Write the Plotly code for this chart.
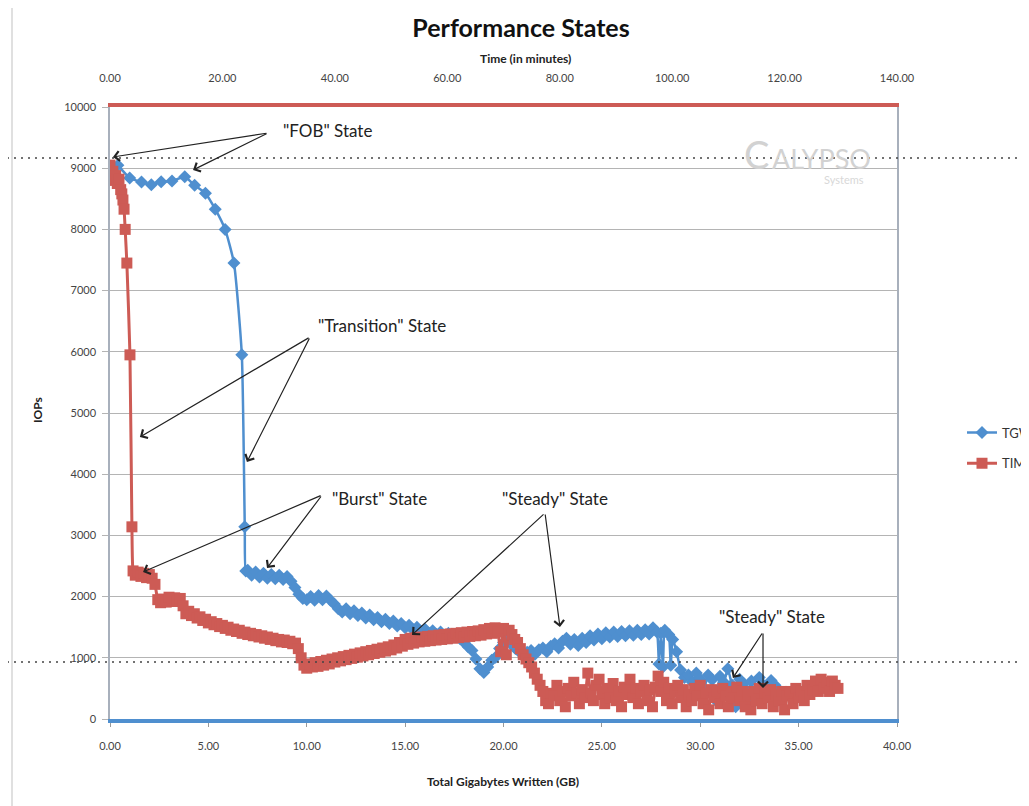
import plotly.graph_objects as go

# ---------------- data ----------------
# TGW series: IOPs vs total gigabytes written (bottom axis, GB)
tgw_gb = [0.4, 1.0, 1.6, 2.1, 2.6, 3.15, 3.8, 4.3, 4.85, 5.35, 5.85, 6.3, 6.7, 6.85, 6.9,
          7.0, 7.2, 7.4, 7.6, 7.8, 8.0, 8.2, 8.4, 8.6, 8.8, 9.0, 9.2,
          9.4, 9.6, 9.8, 10.0, 10.2, 10.4, 10.6, 10.8, 11.0, 11.2, 11.4, 11.6, 11.8, 12.0,
          12.2, 12.4, 12.6, 12.8, 13.0, 13.2, 13.4, 13.6, 13.8, 14.0, 14.2, 14.4, 14.6, 14.8,
          15.0, 15.2, 15.4, 15.6, 15.8, 16.0, 16.2, 16.4, 16.6, 16.8, 17.0, 17.2, 17.4, 17.6,
          17.8, 18.0, 18.2, 18.4, 18.6, 18.8, 19.0, 19.2, 19.4, 19.6, 19.8, 20.0, 20.2, 20.4,
          20.6, 20.8, 21.0, 21.2, 21.4, 21.6, 21.8, 22.0, 22.2, 22.4, 22.6, 22.8, 23.0, 23.2,
          23.4, 23.6, 23.8, 24.0, 24.2, 24.4, 24.6, 24.8, 25.0, 25.2, 25.4, 25.6, 25.8, 26.0,
          26.2, 26.4, 26.6, 26.8, 27.0, 27.2, 27.4, 27.6, 27.8, 27.9, 28.0, 28.1, 28.2, 28.4,
          28.5, 28.6, 28.8, 29.0, 29.2, 29.4, 29.6, 29.8, 30.0, 30.2, 30.4, 30.6, 30.8, 31.0,
          31.2, 31.4, 31.6, 31.8, 32.0, 32.2, 32.4, 32.6, 32.8, 33.0, 33.2, 33.4, 33.6, 33.8, 34.0]
tgw_iops = [9050, 8840, 8775, 8730, 8780, 8790, 8860, 8720, 8590, 8330, 8000, 7450, 5950, 3140, 2420,
            2430, 2350, 2400, 2320, 2380, 2300, 2360, 2290, 2350, 2280, 2330, 2250,
            2150, 2040, 1970, 1950, 2000, 1940, 2020, 1950, 2010, 1940, 1880, 1800, 1750, 1800,
            1720, 1770, 1690, 1730, 1650, 1700, 1620, 1660, 1590, 1630, 1560, 1600, 1520, 1560,
            1490, 1530, 1460, 1500, 1430, 1470, 1400, 1440, 1380, 1420, 1360, 1400, 1330, 1370,
            1310, 1250, 1180, 1120, 980, 820, 760, 850, 960, 1010, 1150, 1250, 1300, 1220,
            1150, 1100, 1060, 1090, 1120, 1060, 1130, 1160, 1100, 1190, 1230, 1160, 1270, 1320,
            1220, 1300, 1200, 1320, 1250, 1360, 1290, 1390, 1310, 1410, 1340, 1420, 1350, 1430,
            1360, 1440, 1370, 1450, 1380, 1460, 1390, 1490, 1420, 900, 1400, 850, 1450, 1380,
            880, 1300, 1100, 800, 680, 720, 600, 750, 650, 500, 720, 640, 300, 700,
            600, 820, 560, 200, 650, 580, 450, 620, 300, 680, 560, 400, 630, 550, 450]

# TIM series: IOPs vs time (top axis, minutes)
tim_min = [0.0, 0.3, 0.5, 0.8, 1.0, 1.3, 1.6, 1.9, 2.1, 2.3, 2.5, 2.7, 3.0, 3.55, 3.9, 4.1,
           4.5, 5.0, 5.5, 6.0, 6.5, 7.0, 7.5,
           8.0, 8.5, 9.0, 9.5, 10.0, 10.5, 11.0, 11.5, 12.0, 12.5, 13.0, 13.5, 14.0, 14.5,
           15.0, 15.5, 16.0, 16.5, 17.0, 17.5, 18.0, 18.5, 19.0, 19.5, 20.0, 20.5, 21.0, 21.5,
           22.0, 22.5, 23.0, 23.5, 24.0, 24.5, 25.0, 25.5, 26.0, 26.5, 27.0, 27.5, 28.0, 28.5,
           29.0, 29.5, 30.0, 30.5, 31.0, 31.5, 32.0, 32.5,
           33.0, 33.5, 34.0, 34.5, 35.0, 35.5, 36.0, 36.5, 37.0, 37.5, 38.0, 38.5, 39.0, 39.5,
           40.0, 40.5, 41.0, 41.5, 42.0, 42.5, 43.0, 43.5, 44.0, 44.5, 45.0, 45.5, 46.0, 46.5,
           47.0, 47.5, 48.0, 48.5, 49.0, 49.5, 50.0, 50.5, 51.0, 51.5, 52.0, 52.5, 53.0, 53.5,
           54.0, 54.5, 55.0, 55.5, 56.0, 56.5, 57.0, 57.5, 58.0, 58.5, 59.0, 59.5, 60.0, 60.5,
           61.0, 61.5, 62.0, 62.5, 63.0, 63.5, 64.0, 64.5, 65.0, 65.5, 66.0, 66.5, 67.0, 67.5,
           68.0, 68.5, 69.0, 69.5, 70.0, 70.5, 71.0, 71.5, 72.0, 72.5, 73.0, 73.5, 74.0, 74.5,
           75.0, 75.5, 76.0, 76.5,
           77.0, 77.5, 78.0, 78.5, 79.0, 79.5, 80.0, 80.5, 81.0, 81.5, 82.0, 82.5, 83.0, 83.5,
           84.0, 84.5, 85.0, 85.5, 86.0, 86.5, 87.0, 87.5, 88.0, 88.5, 89.0, 89.5, 90.0, 90.5,
           91.0, 91.5, 92.0, 92.5, 93.0, 93.5, 94.0, 94.5, 95.0, 95.5, 96.0, 96.5, 97.0, 97.5,
           98.0, 98.5, 99.0, 99.5, 100.0, 100.5, 101.0, 101.5, 102.0, 102.5, 103.0, 103.5,
           104.0, 104.5, 105.0, 105.5, 106.0, 106.5, 107.0, 107.5, 108.0, 108.5, 109.0, 109.5,
           110.0, 110.5, 111.0, 111.5, 112.0, 112.5, 113.0, 113.5, 114.0, 114.5, 115.0, 115.5,
           116.0, 116.5, 117.0, 117.5, 118.0, 118.5, 119.0, 119.5, 120.0, 120.5, 121.0, 121.5,
           122.0, 122.5, 123.0, 123.5, 124.0, 124.5, 125.0, 125.5, 126.0, 126.5, 127.0, 127.5,
           128.0, 128.5, 129.0, 129.5]
tim_iops = [9050, 8900, 8950, 8800, 8880, 8750, 8820, 8650, 8580, 8480, 8330, 8000, 7450, 5950, 3140, 2420,
            2350, 2400, 2330, 2380, 2310, 2360, 2300,
            2200, 1950, 1900, 1960, 1910, 1990, 1920, 1980, 1920, 1970, 1850, 1720, 1760, 1690,
            1720, 1650, 1670, 1610, 1630, 1570, 1590, 1540, 1560, 1510, 1530, 1480, 1500, 1450,
            1470, 1430, 1450, 1400, 1420, 1380, 1400, 1360, 1380, 1340, 1360, 1320, 1340, 1300,
            1320, 1280, 1300, 1260, 1290, 1250, 1270, 1230,
            1240, 1150, 1000, 880, 830, 900, 850, 920, 860, 940, 880, 960, 900, 980,
            930, 1000, 950, 1020, 970, 1040, 990, 1060, 1010, 1080, 1030, 1100, 1050, 1120,
            1070, 1140, 1090, 1160, 1110, 1180, 1130, 1210, 1160, 1250, 1190, 1300, 1220, 1320,
            1240, 1330, 1260, 1340, 1270, 1350, 1280, 1360, 1290, 1370, 1300, 1380, 1310, 1390,
            1320, 1400, 1330, 1410, 1340, 1420, 1350, 1430, 1360, 1440, 1370, 1460, 1390, 1480,
            1400, 1490, 1420, 1100, 1480, 1050, 1450, 1380, 1300, 1250, 1150, 1050, 980, 920,
            850, 750, 650, 550,
            450, 300, 250, 420, 380, 550, 300, 450, 200, 500, 380, 600, 420, 250,
            480, 350, 750, 420, 300, 550, 650, 400, 250, 500, 350, 580, 300, 450,
            200, 520, 400, 650, 350, 500, 250, 450, 550, 300, 480, 200, 520, 700,
            450, 600, 300, 500, 250, 450, 550, 350, 480, 200, 400, 300,
            500, 380, 550, 250, 420, 150, 480, 350, 450, 250, 500, 380,
            200, 450, 350, 520, 300, 450, 200, 400, 150, 450, 300, 500,
            250, 420, 350, 480, 200, 400, 300, 450, 150, 380, 450, 250,
            500, 350, 450, 300, 550, 400, 480, 620, 450, 650, 500, 600,
            450, 620, 550, 500]

gb_ticks = [0, 5, 10, 15, 20, 25, 30, 35, 40]
min_ticks = [0, 20, 40, 60, 80, 100, 120, 140]
iops_ticks = [0, 1000, 2000, 3000, 4000, 5000, 6000, 7000, 8000, 9000, 10000]

BLUE = "#4f8fcf"
RED = "#cd5b55"
FONT = "Lato"

W, H = 1029, 806
OFF = 8  # page offset of the plot inside the browser window
L, R, T, B = 110, 897, 107, 719  # plot area in window pixels


def px(xp):
    return (xp - L) / (R - L)


def py(yp):
    return (B - yp) / (B - T)


fig = go.Figure()
fig.add_trace(go.Scatter(
    x=tgw_gb, y=tgw_iops, name="TGW", mode="lines+markers", legendgroup="g1",
    line=dict(color=BLUE, width=2.5, shape="spline", smoothing=0.5),
    marker=dict(symbol="diamond", size=10, color=BLUE),
    xaxis="x", yaxis="y"))
fig.add_trace(go.Scatter(
    x=tim_min, y=tim_iops, name="TIM", mode="lines+markers", legendgroup="g2",
    line=dict(color=RED, width=3, shape="spline", smoothing=0.5),
    marker=dict(symbol="square", size=11, color=RED),
    xaxis="x2", yaxis="y"))

fig.update_layout(
    width=W, height=H,
    paper_bgcolor="white", plot_bgcolor="white",
    margin=dict(l=L - OFF, r=W - (R - OFF), t=T - OFF, b=H - (B - OFF), autoexpand=False),
    font=dict(family=FONT, size=11, color="#333333"),
    title=dict(text="<b>Performance States</b>", x=(521 - OFF) / W, xanchor="center",
               y=1 - (28 - OFF) / H, yanchor="middle", xref="container", yref="container",
               font=dict(family=FONT, size=25, color="#111111")),
    xaxis=dict(range=[0, 40], tickvals=gb_ticks, tickformat=".2f", side="bottom",
               showline=True, linecolor=BLUE, linewidth=4, showgrid=False, zeroline=False,
               ticks="outside", ticklen=4, tickcolor="#999999", ticklabelstandoff=10,
               tickfont=dict(size=11, color="#444444")),
    xaxis2=dict(range=[0, 140], tickvals=min_ticks, tickformat=".2f", side="top",
                overlaying="x", anchor="y",
                showline=True, linecolor=RED, linewidth=4, showgrid=False, zeroline=False,
                ticks="", ticklabelstandoff=17,
                tickfont=dict(size=11, color="#444444")),
    yaxis=dict(range=[0, 10000], tickvals=iops_ticks, tickformat="d", showgrid=True,
               gridcolor="#b4b4b4", gridwidth=1, zeroline=False,
               showline=True, linecolor="#a8b0bc", linewidth=1.5, mirror=True,
               ticks="outside", ticklen=6, tickcolor="#b4b4b4", ticklabelstandoff=4,
               tickfont=dict(size=11, color="#444444")),
    legend=dict(x=px(962), y=py(448), xanchor="left", yanchor="middle",
                font=dict(size=13, color="#333333"), bgcolor="rgba(0,0,0,0)",
                tracegroupgap=11),
    showlegend=True,
)


def note(text, xp, yp, size, color="#222222", angle=0):
    fig.add_annotation(text=text, xref="paper", yref="paper", x=px(xp), y=py(yp),
                       xanchor="center", yanchor="middle", showarrow=False, textangle=angle,
                       font=dict(size=size, color=color, family=FONT))


# axis titles
note("<b>Time (in minutes)</b>", 525, 58, 12)
note("<b>Total Gigabytes Written (GB)</b>", 503, 781, 12)
note("<b>IOPs</b>", 37, 410, 12, angle=-90)

# watermark
note("C", 756, 154, 38, color="#d2d2d2")
note("ALYPSO", 821, 158, 27, color="#d2d2d2")
note("Systems", 844, 179, 11, color="#d8d8d8")

# state labels
labels = [("\"FOB\" State", 11.04, 9608),
          ("\"Transition\" State", 13.82, 6422),
          ("\"Burst\" State", 13.72, 3611),
          ("\"Steady\" State", 22.62, 3611),
          ("\"Steady\" State", 33.65, 1667)]
for t, lx, ly in labels:
    fig.add_annotation(text=t, x=lx, y=ly, xref="x", yref="y", showarrow=False,
                       xanchor="center", yanchor="middle",
                       font=dict(size=17, color="#222222"))

arrows = [((8.03, 9575), (0.15, 9183)), ((8.03, 9575), (4.22, 8971)),
          ((10.17, 6242), (1.52, 4608)), ((10.17, 6242), (6.96, 4199)),
          ((10.78, 3660), (1.68, 2402)), ((10.78, 3660), (7.98, 2467)),
          ((22.11, 3366), (15.35, 1373)), ((22.11, 3366), (22.87, 1503)),
          ((33.19, 1422), (31.66, 670)), ((33.19, 1422), (33.19, 507))]
for (tx, ty), (hx, hy) in arrows:
    fig.add_annotation(text="", x=hx, y=hy, ax=tx, ay=ty, xref="x", yref="y",
                       axref="x", ayref="y", showarrow=True, arrowhead=4,
                       arrowsize=1.6, arrowwidth=1.2, arrowcolor="#222222", standoff=0)

# frame and screenshot artefacts
fig.add_shape(type="rect", xref="paper", yref="paper", x0=px(12), x1=px(1040),
              y0=py(3), y1=py(820), line=dict(color="#d6d6d6", width=1.5), layer="below")
fig.add_shape(type="rect", xref="paper", yref="paper", x0=px(316), x1=px(327),
              y0=py(0), y1=py(3), line=dict(width=0), fillcolor="#3b7fe0", layer="above")
for yy in (158, 662):
    fig.add_shape(type="line", xref="paper", yref="paper", x0=px(0), x1=px(1040),
                  y0=py(yy), y1=py(yy), line=dict(color="#444444", width=1.5, dash="2px,5px"),
                  layer="above")

fig.write_html("out.html")
